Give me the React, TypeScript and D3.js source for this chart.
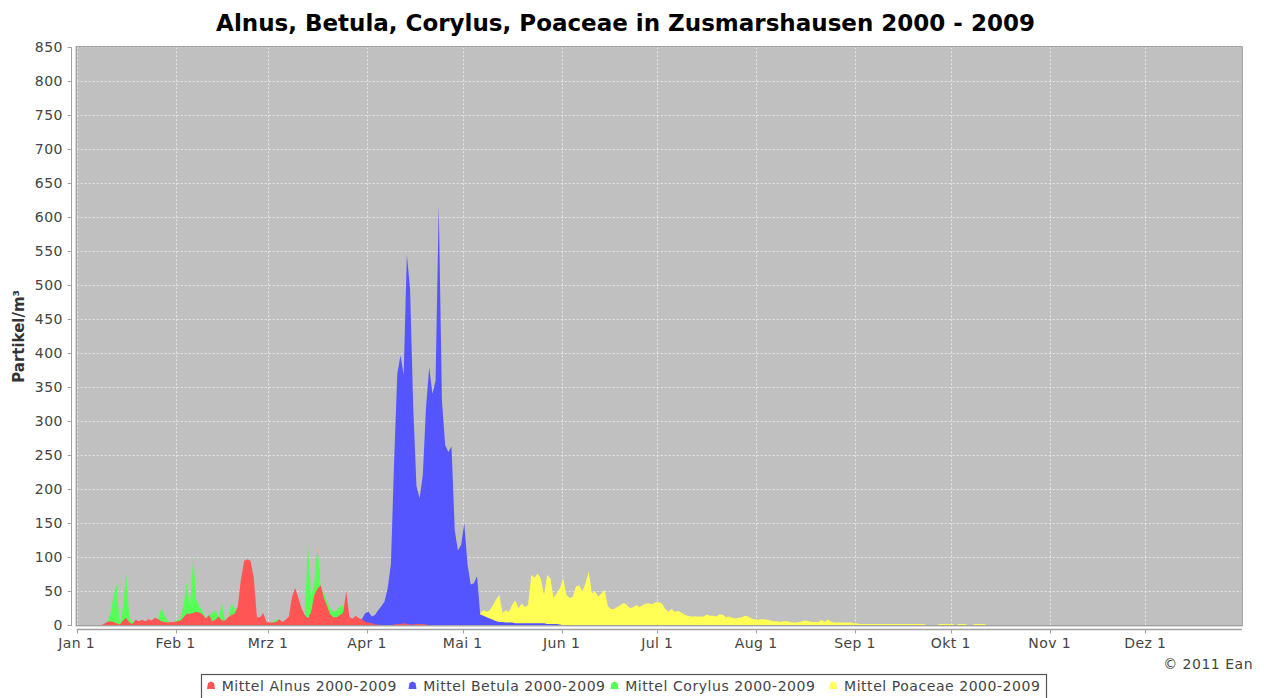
import React from 'react';
import * as d3 from 'd3';

// ---------- data ----------
const chartTitle = 'Alnus, Betula, Corylus, Poaceae in Zusmarshausen 2000 - 2009';
const yAxisTitle = 'Partikel/m³';
const copyright = '© 2011 Ean';
const monthLabels = ['Jan 1', 'Feb 1', 'Mrz 1', 'Apr 1', 'Mai 1', 'Jun 1', 'Jul 1', 'Aug 1', 'Sep 1', 'Okt 1', 'Nov 1', 'Dez 1'];
const yTickValues = [0, 50, 100, 150, 200, 250, 300, 350, 400, 450, 500, 550, 600, 650, 700, 750, 800, 850];
const seriesNames = ['Mittel Alnus 2000-2009', 'Mittel Betula 2000-2009', 'Mittel Corylus 2000-2009', 'Mittel Poaceae 2000-2009'];

// daily means, first value is for day index "start" (0 = Jan 1)
const alnusStart = 8;
const alnusValues = [
  2, 5, 6, 5, 3, 1, 7, 11, 4, 2, 8, 6, 8, 6, 9, 7, 11, 9, 6, 5, 4, 5, 5, 6, 7,
  12, 17, 17, 18, 20, 19, 16, 10, 15, 6, 8, 13, 7, 7, 12, 15, 17, 28, 68, 95, 97, 95, 70, 12, 12,
  18, 5, 4, 4, 5, 9, 5, 8, 13, 42, 55, 40, 25, 15, 10, 20, 45, 54, 59, 40, 28, 16, 12, 12, 15,
  18, 50, 12, 10, 14, 10, 9, 5, 4, 3, 1, 1, 0, 0, 0, 0, 1, 2, 2, 3, 2, 1, 1, 2, 2, 2, 1, 0,
];

const betulaStart = 86;
const betulaValues = [
  0, 2, 5, 10, 18, 20, 13, 15, 22, 28, 35, 55, 90, 240, 370, 397, 368, 545, 495, 320,
  205, 187, 221, 320, 380, 340, 360, 618, 330, 265, 255, 263, 140, 110, 118, 150, 90, 60, 62, 72,
  16, 14, 12, 10, 8, 6, 5, 5, 4, 4, 4, 3, 3, 3, 3, 3, 3, 3, 3, 3, 3, 2, 2, 2, 2, 1, 0,
];

const corylusStart = 9;
const corylusValues = [
  5, 15, 42, 60, 2, 25, 77, 12, 5, 6, 5, 6, 5, 7, 6, 8, 8, 25, 15, 6, 5, 5, 8, 10,
  30, 64, 25, 100, 38, 28, 20, 10, 15, 18, 22, 10, 32, 7, 10, 32, 25, 20, 15, 15, 15, 15, 15,
  8, 8, 5, 3, 3, 4, 9, 6, 5, 6, 8, 10, 10, 10, 10, 14, 120, 40, 65, 116, 52, 48, 35, 25, 20,
  22, 28, 30, 15, 8, 5, 3, 2, 1, 0,
];

const poaceaeStart = 119;
const poaceaeValues = [
  5, 8, 10, 12, 15, 18,
  18, 18, 22, 20, 22, 30, 38, 45, 18, 22, 20, 30, 37, 25, 32, 27, 30, 74, 70, 76, 69, 45, 74, 69,
  40, 47, 55, 69, 45, 40, 42, 57, 59, 50, 62, 79, 47, 50, 42, 47, 52, 28, 24, 24, 27, 30, 33, 30,
  25, 27, 30, 27, 30, 32, 32, 31, 34, 34, 32, 24, 20, 24, 20, 21, 19, 16, 14, 13, 13, 13, 13, 13,
  16, 14, 14, 13, 16, 16, 12, 13, 11, 10, 11, 12, 14, 13, 10, 9, 8, 9, 9, 8, 7, 6, 6, 5, 6, 6,
  5, 4, 4, 5, 6, 7, 6, 5, 5, 5, 8, 5, 9, 5, 4, 4, 4, 4, 4, 4, 3, 3,
  2, 2, 2, 2, 2, 2, 2, 2, 2, 2, 2, 2, 2, 2, 2, 2, 2, 2, 2, 2, 2,
  0, 0, 0, 0, 2, 2, 2, 2, 2, 0, 2, 2, 2, 0, 0, 2, 2, 2, 2, 0,
];

const seriesColors = ['#ff5555', '#5555ff', '#55ff55', '#ffff55'];

// ---------- layout ----------
const W = 1264;
const H = 698;
const PL = 76.7;
const PR = 1241.7;
const PT = 47.3;
const PB = 625.3;
const DAY = 86400000;
const yearStart = Date.UTC(2008, 0, 1);
const FONT = '"DejaVu Sans", Verdana, sans-serif';
const legendItemX = [211, 412.5, 614.5, 833.3];

const x = d3.scaleUtc()
  .domain([new Date(yearStart), new Date(yearStart + 365.2 * DAY)])
  .range([PL, PR]);
const y = d3.scaleLinear().domain([0, 850]).range([PB, PT]);

type Pt = { date: Date; v: number };

function buildSeries(start: number, values: number[]): Pt[] {
  const pts: Pt[] = values.map((v, i) => ({ date: new Date(yearStart + (start + i + 0.5) * DAY), v }));
  pts.unshift({ date: new Date(yearStart + (start - 0.5) * DAY), v: 0 });
  pts.push({ date: new Date(yearStart + (start + values.length + 0.5) * DAY), v: 0 });
  return pts;
}

const series = [
  buildSeries(alnusStart, alnusValues),
  buildSeries(betulaStart, betulaValues),
  buildSeries(corylusStart, corylusValues),
  buildSeries(poaceaeStart, poaceaeValues),
];

const area = d3.area<Pt>()
  .x((d) => x(d.date))
  .y0(y(0))
  .y1((d) => y(d.v));

const monthTicks = d3.utcMonth.range(new Date(yearStart), new Date(Date.UTC(2009, 0, 1)));

export default function App() {
  const drawOrder = [3, 2, 1, 0];
  return (
    <svg width={W} height={H} style={{ position: 'absolute', left: 0, top: 0, display: 'block', background: '#fff' }}>
      <defs>
        <clipPath id="plotClip">
          <rect x={PL} y={PT} width={PR - PL} height={PB - PT} />
        </clipPath>
      </defs>
      <rect x={0} y={0} width={W} height={H} fill="#ffffff" />
      {/* title */}
      <text x={625.5} y={31} textAnchor="middle" fontFamily={FONT} fontWeight="bold" fontSize={23} fill="#000">
        {chartTitle}
      </text>
      {/* plot background */}
      <rect x={PL} y={PT} width={PR - PL} height={PB - PT} fill="#c0c0c0" />
      {/* grid */}
      <g stroke="#ffffff" strokeWidth={0.7} strokeDasharray="2,2" opacity={0.9}>
        {yTickValues.map((t) => (
          <line key={'gy' + t} x1={PL} x2={PR} y1={Math.round(y(t)) + 0.5} y2={Math.round(y(t)) + 0.5} />
        ))}
        {monthTicks.map((m, i) => (
          <line key={'gx' + i} x1={Math.round(x(m)) + 0.5} x2={Math.round(x(m)) + 0.5} y1={PT} y2={PB} />
        ))}
      </g>
      {/* areas */}
      <g clipPath="url(#plotClip)">
        {drawOrder.map((s) => (
          <path key={'s' + s} d={area(series[s]) || ''} fill={seriesColors[s]} stroke="none" />
        ))}
      </g>
      {/* plot border */}
      <rect x={PL - 0.5} y={PT - 0.5} width={PR - PL + 1} height={PB - PT + 1} fill="none" stroke="#808080" strokeWidth={1} />
      {/* y axis */}
      <line x1={71.5} x2={71.5} y1={PT} y2={PB + 0.5} stroke="#a0a0a0" strokeWidth={1} />
      {yTickValues.map((t) => (
        <g key={'yt' + t}>
          <line x1={67.5} x2={71.5} y1={Math.round(y(t)) + 0.5} y2={Math.round(y(t)) + 0.5} stroke="#a0a0a0" />
          <text x={63} y={y(t) + 5} textAnchor="end" fontFamily={FONT} fontSize={14} letterSpacing={0.5} fill="#444">
            {t}
          </text>
        </g>
      ))}
      <text
        transform={`translate(23.5, ${(PT + PB) / 2}) rotate(-90)`}
        textAnchor="middle"
        fontFamily={FONT}
        fontWeight="bold"
        fontSize={15}
        fill="#333"
      >
        {yAxisTitle}
      </text>
      {/* x axis */}
      <line x1={PL} x2={PR} y1={629.5} y2={629.5} stroke="#a0a0a0" strokeWidth={1.5} />
      {monthTicks.map((m, i) => (
        <g key={'xt' + i}>
          <line x1={Math.round(x(m)) + 0.5} x2={Math.round(x(m)) + 0.5} y1={629.5} y2={633.5} stroke="#a0a0a0" />
          <text x={x(m)} y={648} textAnchor="middle" fontFamily={FONT} fontSize={14} letterSpacing={0.4} fill="#444">
            {monthLabels[i]}
          </text>
        </g>
      ))}
      {/* copyright */}
      <text x={1253} y={669} textAnchor="end" fontFamily={FONT} fontSize={14} letterSpacing={0.5} fill="#444">
        {copyright}
      </text>
      {/* legend */}
      <rect x={201.5} y={674.5} width={845} height={40} fill="#ffffff" stroke="#555" strokeWidth={1.2} />
      {seriesNames.map((name, i) => (
        <g key={'lg' + i}>
          <path
            transform={`translate(${legendItemX[i]}, 685.5)`}
            d="M0,-4 L3,-2.5 L4,3.5 L-4,3.5 L-3,-2.5 Z"
            fill={seriesColors[i]}
          />
          <text x={legendItemX[i] + 10.7} y={691} fontFamily={FONT} fontSize={14} letterSpacing={0.55} fill="#444">
            {name}
          </text>
        </g>
      ))}
    </svg>
  );
}
